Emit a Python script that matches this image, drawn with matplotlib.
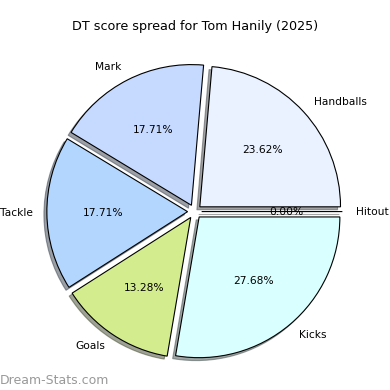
import matplotlib
matplotlib.use('Agg')
import matplotlib.pyplot as plt

categories = ['Hitout', 'Handballs', 'Mark', 'Tackle', 'Goals', 'Kicks']
values = [0.0, 23.62, 17.71, 17.71, 13.28, 27.68]
colors = ['#ffffff', '#eaf2ff', '#c6d9ff', '#b3d6ff', '#d3ec8d', '#d9ffff']
explode = [0.05] * len(values)

fig = plt.figure(figsize=(3.9, 3.9), dpi=100)
ax = fig.add_axes([0.048, 0.0065, 0.902, 0.902])

ax.pie(values, labels=categories, colors=colors, explode=explode,
       autopct='%1.2f%%', shadow={'ox': -0.015, 'oy': -0.015},
       wedgeprops={'edgecolor': 'black', 'linewidth': 0.8},
       textprops={'fontsize': 7.7})

fig.text(0.5, 0.932, 'DT score spread for Tom Hanily (2025)',
         ha='center', va='center', fontsize=9.2)
fig.text(0.0, 0.025, 'Dream-Stats.com', ha='left', va='center',
         fontsize=9, color='#999999')

fig.savefig('out.png', dpi=100)
